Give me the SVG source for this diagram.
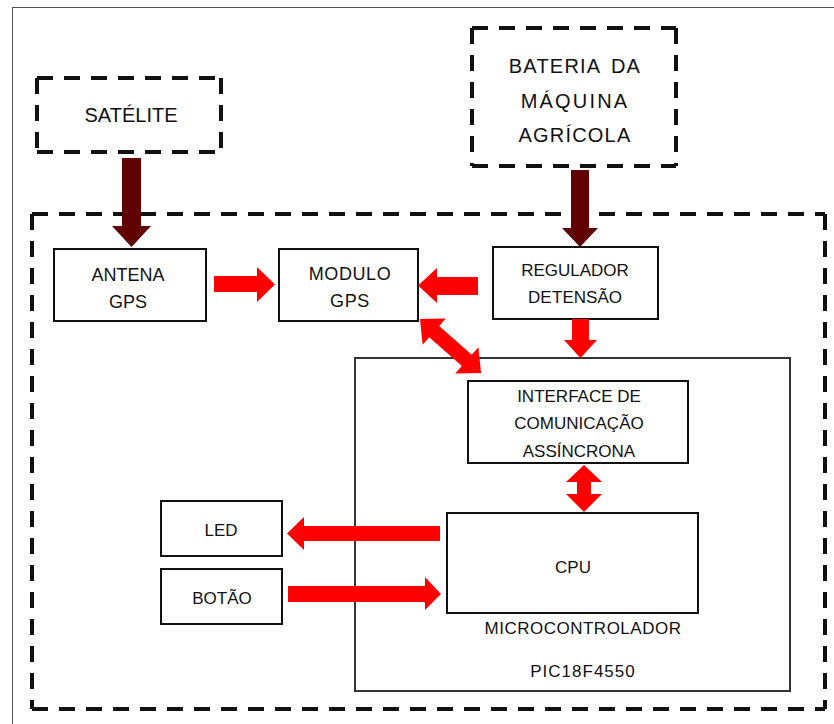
<svg xmlns="http://www.w3.org/2000/svg" width="834" height="724" viewBox="0 0 834 724">
<style>
.t{font-family:"Liberation Sans",Arial,sans-serif;font-size:17px;fill:#111;text-anchor:middle}
.big{font-size:20px}
.mid{font-size:18px}
.box{fill:#fff;stroke:#111;stroke-width:2}
.dash{fill:none;stroke:#111;stroke-width:4;stroke-dasharray:16 11}
.red{fill:#ff0000}
.dark{fill:#600000}
</style>
<rect x="0" y="0" width="834" height="724" fill="#fff"/>
<rect x="12.5" y="7.5" width="830" height="730" fill="none" stroke="#555" stroke-width="1"/>

<g id="sistema">
<path class="dash" d="M32 214 H825 M825 214 V709 M32 214 V709 M32 709 H825"/>
</g>

<g id="satelite">
<path class="dash" d="M37 78 H221 M221 78 V152 M37 78 V152 M37 152 H221"/>
<text class="t big" x="131" y="122">SATÉLITE</text>
</g>

<g id="bateria">
<path class="dash" d="M472 28 H676 M676 28 V166 M472 28 V166 M472 166 H676"/>
<text class="t big" x="575" y="73" letter-spacing="1.2" word-spacing="4">BATERIA DA</text>
<text class="t big" x="575" y="108" letter-spacing="2.2">MÁQUINA</text>
<text class="t big" x="575" y="142" letter-spacing="1.2">AGRÍCOLA</text>
</g>

<g id="antena">
<rect class="box" x="54" y="249" width="152" height="72"/>
<text class="t mid" x="128" y="281">ANTENA</text>
<text class="t mid" x="128" y="308">GPS</text>
</g>

<g id="modulo">
<rect class="box" x="279" y="249" width="139" height="72"/>
<text class="t mid" x="350" y="280" letter-spacing="0.6">MODULO</text>
<text class="t mid" x="350" y="307" letter-spacing="0.6">GPS</text>
</g>

<g id="regulador">
<rect class="box" x="493" y="247" width="165" height="72"/>
<text class="t" x="575" y="276">REGULADOR</text>
<text class="t" x="575" y="303" word-spacing="-4">DE TENSÃO</text>
</g>

<g id="microcontrolador">
<rect x="355" y="358" width="435" height="333" fill="none" stroke="#333" stroke-width="2"/>
<text class="t" x="583" y="634" letter-spacing="0.5">MICROCONTROLADOR</text>
<text class="t" x="583" y="677" letter-spacing="1">PIC18F4550</text>
</g>

<g id="interface">
<rect class="box" x="468" y="381" width="220" height="82"/>
<text class="t" x="579" y="402">INTERFACE DE</text>
<text class="t" x="579" y="429">COMUNICAÇÃO</text>
<text class="t" x="579" y="457">ASSÍNCRONA</text>
</g>

<g id="cpu">
<rect class="box" x="447" y="513" width="251" height="100"/>
<text class="t" x="573" y="573">CPU</text>
</g>

<g id="led">
<rect class="box" x="161" y="501" width="121" height="55"/>
<text class="t" x="221" y="536">LED</text>
</g>

<g id="botao">
<rect class="box" x="161" y="569" width="121" height="55"/>
<text class="t" x="222" y="604">BOTÃO</text>
</g>

<g id="connectors">
<polygon class="dark" points="122,158 141,158 141,226 151,226 131.5,247 112,226 122,226"/>
<polygon class="dark" points="571,170 589,170 589,228 598,228 580,247 562,228 571,228"/>
<polygon class="red" points="214,276 257,276 257,267 275,284.5 257,302 257,292 214,292"/>
<polygon class="red" points="478,277 437,277 437,268 418,285.5 437,303 437,295 478,295"/>
<polygon class="red" points="572,319 589,319 589,340 597,340 580.5,358 564,340 572,340"/>
<polygon class="red" transform="translate(420,319) rotate(41.5)" points="0,0 19,-17.5 19,-7.5 62.5,-7.5 62.5,-17.5 81.5,0 62.5,17.5 62.5,7.5 19,7.5 19,17.5"/>
<polygon class="red" points="584,465 602,482 591,482 591,494 602,494 584,512 566,494 577,494 577,482 566,482"/>
<polygon class="red" points="440,526 304,526 304,517 287,533.5 304,550 304,541 440,541"/>
<polygon class="red" points="288,586 425,586 425,577 441,594 425,610 425,602 288,602"/>
</g>
</svg>
